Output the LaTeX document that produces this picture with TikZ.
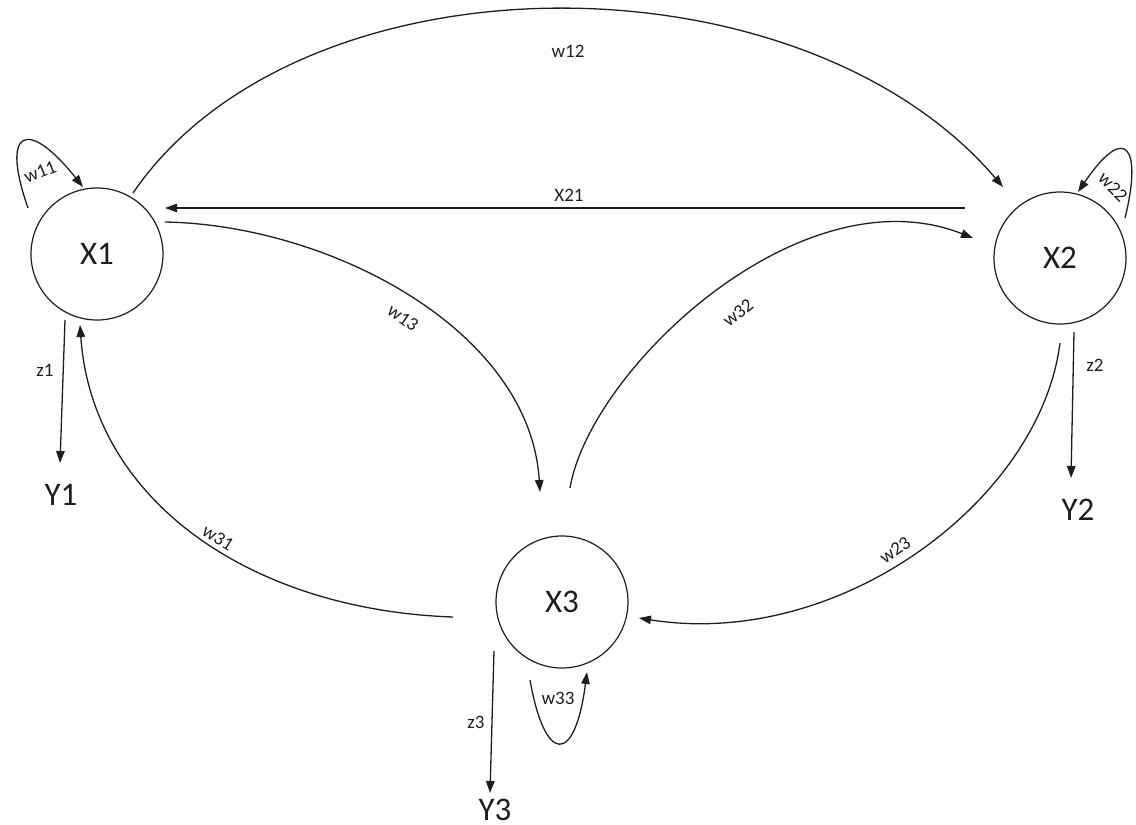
\documentclass[tikz,border=0pt]{standalone}
\usepackage{fontspec}
\setmainfont{Carlito}
\usetikzlibrary{arrows.meta}
\definecolor{ink}{RGB}{30,30,30}
\begin{document}
\begin{tikzpicture}[x=1pt,y=-1pt,
  statenode/.style={draw=ink, circle, minimum size=132pt, inner sep=0pt, line width=1.2pt,
    text=ink, font=\fontsize{33}{36}\selectfont},
  outnode/.style={text=ink, inner sep=0pt, font=\fontsize{33}{36}\selectfont},
  wire/.style={draw=ink, line width=1.3pt, -{Triangle[length=12pt,width=8.5pt]}},
  lab/.style={text=ink, inner sep=1pt, font=\fontsize{19}{22}\selectfont},
]
% canvas
\useasboundingbox (0,0) rectangle (1136,825);

% states
\node[statenode] (X1) at (97,254) {X1};
\node[statenode] (X2) at (1060,258) {X2};
\node[statenode] (X3) at (562,602) {X3};

% outputs
\node[outnode] (Y1) at (61,495) {Y1};
\node[outnode] (Y2) at (1078,510) {Y2};
\node[outnode] (Y3) at (495,810) {Y3};

% connector end points
\path (X1) ++(36,-61) coordinate (a12);
\path (X2) ++(-57,-71) coordinate (b12);
\path (X2) ++(-95,-50) coordinate (a21);
\path (X1) ++(68,-46) coordinate (b21);
\path (X1) ++(68,-32) coordinate (a13);
\path (X3) ++(-22,-110) coordinate (b13);
\path (X3) ++(8,-114) coordinate (a32);
\path (X2) ++(-87,-20) coordinate (b32);
\path (X2) ++(0,85) coordinate (a23);
\path (X3) ++(77,16) coordinate (b23);
\path (X3) ++(-109,15) coordinate (a31);
\path (X1) ++(-17,71) coordinate (b31);
\path (X1) ++(-32,66) coordinate (az1);
\path (Y1) ++(-1,-32) coordinate (bz1);
\path (X2) ++(14,74) coordinate (az2);
\path (Y2) ++(-7,-32) coordinate (bz2);
\path (X3) ++(-68,49) coordinate (az3);
\path (Y3) ++(-5,-17) coordinate (bz3);
\path (X1) ++(-69,-46) coordinate (a11);
\path (X1) ++(-14,-67) coordinate (b11);
\path (X2) ++(65,-40) coordinate (a22);
\path (X2) ++(18,-66) coordinate (b22);
\path (X3) ++(-32,78) coordinate (a33);
\path (X3) ++(25,70) coordinate (b33);

% transitions between states
\draw[wire] (a12) .. controls (300,-51) and (800,-51) .. (b12);
\draw[wire] (a21) -- (b21);
\draw[wire] (a13) .. controls (330,225) and (530,330) .. (b13);
\draw[wire] (a32) .. controls (590,370) and (800,170) .. (b32);
\draw[wire] (a23) .. controls (1040,500) and (840,650) .. (b23);
\draw[wire] (a31) .. controls (250,610) and (92,500) .. (b31);

% self loops
\draw[wire] (a11) .. controls (0,128) and (28,118) .. (b11);
\draw[wire] (a22) .. controls (1142,150) and (1127,120) .. (b22);
\draw[wire] (a33) .. controls (545,765) and (575,765) .. (b33);

% outputs
\draw[wire] (az1) -- (bz1);
\draw[wire] (az2) -- (bz2);
\draw[wire] (az3) -- (bz3);

% labels
\node[lab] (l12) at (568,51) {w12};
\node[lab] (l21) at (569,195) {X21};
\node[lab, rotate=-35] (l13) at (403,318) {w13};
\node[lab, rotate=38] (l32) at (738,313) {w32};
\node[lab, rotate=35] (l23) at (895,550) {w23};
\node[lab, rotate=-32] (l31) at (218,538) {w31};
\node[lab, rotate=22] (l11) at (40,172) {w11};
\node[lab, rotate=-45] (l22) at (1113,187) {w22};
\node[lab] (l33) at (558,698) {w33};
\node[lab] (lz1) at (45,370) {z1};
\node[lab] (lz2) at (1095,365) {z2};
\node[lab] (lz3) at (476,722) {z3};
\end{tikzpicture}
\end{document}
